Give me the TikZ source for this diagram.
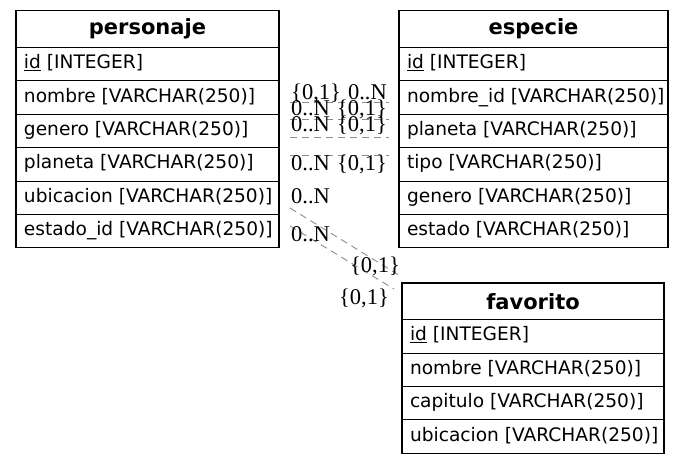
\documentclass[tikz,border=0pt]{standalone}
\usepackage{fontspec}
\setmainfont{DejaVu Sans}
\newfontfamily\cardfont{Liberation Serif}

\begin{document}
\begin{tikzpicture}[x=1pt,y=-1pt,
  tablehead/.style={draw, line width=1.1pt, anchor=north west, outer sep=0pt,
    inner sep=0pt, minimum height=37pt,
    font=\fontsize{21}{24}\selectfont\bfseries},
  field/.style={draw, line width=1.1pt, anchor=north west, outer sep=0pt,
    inner xsep=0pt, inner ysep=0pt, minimum height=33.4pt,
    text height=13.5pt, text depth=4.5pt,
    font=\fontsize{18.6}{22}\selectfont},
  rel/.style={draw=black!45, line width=0.9pt, dash pattern=on 7pt off 5pt},
  card/.style={font=\cardfont\fontsize{22.5}{25}\selectfont, inner sep=0pt}
]
\useasboundingbox (0,0) rectangle (687,464);

% one row of a table: box of width #1 with the text set flush left
\newcommand\rowtext[2]{\makebox[#1][l]{\hspace{8pt}#2}}

% table: personaje
\node[tablehead, minimum width=263pt] (personaje) at (16,10.5) {personaje};
\node[field] (p-id) at (personaje.south west) {\rowtext{263pt}{\underline{id} [INTEGER]}};
\node[field] (p-nombre) at (p-id.south west) {\rowtext{263pt}{nombre [VARCHAR(250)]}};
\node[field] (p-genero) at (p-nombre.south west) {\rowtext{263pt}{genero [VARCHAR(250)]}};
\node[field] (p-planeta) at (p-genero.south west) {\rowtext{263pt}{planeta [VARCHAR(250)]}};
\node[field] (p-ubicacion) at (p-planeta.south west) {\rowtext{263pt}{ubicacion [VARCHAR(250)]}};
\node[field] (p-estado) at (p-ubicacion.south west) {\rowtext{263pt}{estado\_id [VARCHAR(250)]}};

% table: especie
\node[tablehead, minimum width=269pt] (especie) at (399,10.5) {especie};
\node[field] (e-id) at (especie.south west) {\rowtext{269pt}{\underline{id} [INTEGER]}};
\node[field] (e-nombre) at (e-id.south west) {\rowtext{269pt}{nombre\_id [VARCHAR(250)]}};
\node[field] (e-planeta) at (e-nombre.south west) {\rowtext{269pt}{planeta [VARCHAR(250)]}};
\node[field] (e-tipo) at (e-planeta.south west) {\rowtext{269pt}{tipo [VARCHAR(250)]}};
\node[field] (e-genero) at (e-tipo.south west) {\rowtext{269pt}{genero [VARCHAR(250)]}};
\node[field] (e-estado) at (e-genero.south west) {\rowtext{269pt}{estado [VARCHAR(250)]}};

% table: favorito
\node[tablehead, minimum width=262pt, minimum height=36.7pt] (favorito) at (402,283) {favorito};
\node[field] (f-id) at (favorito.south west) {\rowtext{262pt}{\underline{id} [INTEGER]}};
\node[field] (f-nombre) at (f-id.south west) {\rowtext{262pt}{nombre [VARCHAR(250)]}};
\node[field] (f-capitulo) at (f-nombre.south west) {\rowtext{262pt}{capitulo [VARCHAR(250)]}};
\node[field] (f-ubicacion) at (f-capitulo.south west) {\rowtext{262pt}{ubicacion [VARCHAR(250)]}};

% relation end points
\coordinate (pe1) at (290,102);   \coordinate (ep1) at (389,102);
\coordinate (pe2) at (290,119);   \coordinate (ep2) at (389,119);
\coordinate (pe3) at (290,137);   \coordinate (ep3) at (389,137);
\coordinate (pe4) at (290,155);   \coordinate (ep4) at (389,155);
\coordinate (pf1) at (290,208);   \coordinate (fp1) at (402,277);
\coordinate (pf2) at (290,226);   \coordinate (fp2) at (394,289);

% personaje -- especie
\draw[rel] (pe1) -- (ep1);
\draw[rel] (pe2) -- (ep2);
\draw[rel] (pe3) -- (ep3);
\draw[rel] (pe4) -- (ep4);
% personaje -- favorito
\draw[rel] (pf1) -- (fp1);
\draw[rel] (pf2) -- (fp2);

% cardinalities
\node[card, anchor=base west] (c1a) at (291,99) {\{0,1\}};
\node[card, anchor=base east] (c1b) at (387,99) {0..N};
\node[card, anchor=base west] (c2a) at (291,115) {0..N};
\node[card, anchor=base east] (c2b) at (387,115) {\{0,1\}};
\node[card, anchor=base west] (c3a) at (291,131) {0..N};
\node[card, anchor=base east] (c3b) at (387,131) {\{0,1\}};
\node[card, anchor=base west] (c4a) at (291,170) {0..N};
\node[card, anchor=base east] (c4b) at (387,170) {\{0,1\}};
\node[card, anchor=base west] (c5a) at (291,203) {0..N};
\node[card, anchor=base east] (c5b) at (400,272) {\{0,1\}};
\node[card, anchor=base west] (c6a) at (291,241) {0..N};
\node[card, anchor=base east] (c6b) at (389,304) {\{0,1\}};
\end{tikzpicture}
\end{document}
